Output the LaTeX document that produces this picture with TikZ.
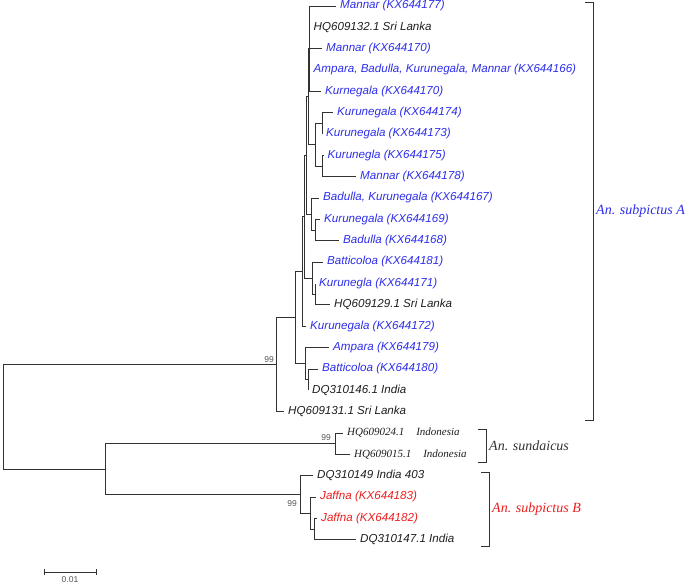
\documentclass[tikz,border=0pt]{standalone}
\usepackage{fontspec}
\setmainfont{Liberation Serif}
\setsansfont{Liberation Sans}
\definecolor{bluec}{RGB}{45,45,235}
\definecolor{redc}{RGB}{235,30,30}
\definecolor{txtc}{RGB}{30,30,30}
\definecolor{linec}{RGB}{50,50,50}
\definecolor{bootc}{RGB}{85,85,85}
\begin{document}
\begin{tikzpicture}[x=1pt,y=-1pt,
  br/.style={draw=linec,line width=0.9pt},
  lf/.style={anchor=west,inner xsep=4pt,inner ysep=0pt,text height=8pt,text depth=2.5pt,font=\sffamily\itshape\fontsize{11.6}{13}\selectfont,text=txtc},
  lfb/.style={lf,text=bluec},
  lfr/.style={lf,text=redc},
  lfi/.style={lf,font=\rmfamily\itshape\fontsize{11}{13}\selectfont},
  boot/.style={font=\sffamily\fontsize{8.5}{9}\selectfont,text=bootc,inner sep=0pt},
  sp/.style={font=\rmfamily\itshape\fontsize{14}{16}\selectfont,anchor=west,inner sep=0pt}]
\useasboundingbox (0,0) rectangle (685,584);

% internal nodes
\coordinate (root) at (3,416.8);
\coordinate (RA) at (276,364.6);
\coordinate (RL) at (105,469);
\coordinate (X) at (295,317.6);
\coordinate (Z) at (305,363.6);
\coordinate (W) at (308,379.6);
\coordinate (Y) at (302,271.5);
\coordinate (T) at (304,216.8);
\coordinate (BG) at (312,278.2);
\coordinate (BG2) at (315,294.2);
\coordinate (U) at (306,155.45);
\coordinate (V) at (311,214.2);
\coordinate (V2) at (315,230.2);
\coordinate (Q) at (308,96.7);
\coordinate (P1) at (309.5,48.7);
\coordinate (S1) at (315,144.75);
\coordinate (S1a) at (322,123.4);
\coordinate (S1b) at (322,166.1);
\coordinate (SU) at (335,443.7);
\coordinate (B) at (300,494.4);
\coordinate (B1) at (310,513.1);
\coordinate (B2) at (314,529.1);

% leaves
\node[lfb] (l1) at (336,6) {Mannar (KX644177)};
\node[lf]  (l2) at (309.5,27.35) {HQ609132.1 Sri Lanka};
\node[lfb] (l3) at (322,48.7) {Mannar (KX644170)};
\node[lfb] (l4) at (309.5,70.05) {Ampara, Badulla, Kurunegala, Mannar (KX644166)};
\node[lfb] (l5) at (321,91.4) {Kurnegala (KX644170)};
\node[lfb] (l6) at (333,112.75) {Kurunegala (KX644174)};
\node[lfb] (l7) at (322,134.1) {Kurunegala (KX644173)};
\node[lfb] (l8) at (323.5,155.45) {Kurunegla (KX644175)};
\node[lfb] (l9) at (356,176.8) {Mannar (KX644178)};
\node[lfb] (l10) at (319,198.15) {Badulla, Kurunegala (KX644167)};
\node[lfb] (l11) at (320,219.5) {Kurunegala (KX644169)};
\node[lfb] (l12) at (339,240.85) {Badulla (KX644168)};
\node[lfb] (l13) at (323,262.2) {Batticoloa (KX644181)};
\node[lfb] (l14) at (315,283.55) {Kurunegla (KX644171)};
\node[lf]  (l15) at (330,304.9) {HQ609129.1 Sri Lanka};
\node[lfb] (l16) at (306,326.25) {Kurunegala (KX644172)};
\node[lfb] (l17) at (329,347.6) {Ampara (KX644179)};
\node[lfb] (l18) at (318,368.95) {Batticoloa (KX644180)};
\node[lf]  (l19) at (308,390.3) {DQ310146.1 India};
\node[lf]  (l20) at (284,411.65) {HQ609131.1 Sri Lanka};
\node[lfi] (l21) at (343,433) {HQ609024.1\hspace{12pt}Indonesia};
\node[lfi] (l22) at (350,454.35) {HQ609015.1\hspace{12pt}Indonesia};
\node[lf]  (l23) at (313,475.7) {DQ310149 India 403};
\node[lfr] (l24) at (316,497.05) {Jaffna (KX644183)};
\node[lfr] (l25) at (317,518.4) {Jaffna (KX644182)};
\node[lf]  (l26) at (356,539.75) {DQ310147.1 India};

% branches
\draw[br] (root) |- (RA);
\draw[br] (root) |- (RL);
\draw[br] (RA) |- (X);
\draw[br] (RA) |- (l20.west);
\draw[br] (X) |- (Y);
\draw[br] (X) |- (Z);
\draw[br] (Z) |- (l17.west);
\draw[br] (Z) |- (W);
\draw[br] (W) |- (l18.west);
\draw[br] (W) |- (l19.west);
\draw[br] (Y) |- (T);
\draw[br] (Y) |- (l16.west);
\draw[br] (T) |- (U);
\draw[br] (T) |- (BG);
\draw[br] (BG) |- (l13.west);
\draw[br] (BG) |- (BG2);
\draw[br] (BG2) |- (l14.west);
\draw[br] (BG2) |- (l15.west);
\draw[br] (U) |- (Q);
\draw[br] (U) |- (V);
\draw[br] (V) |- (l10.west);
\draw[br] (V) |- (V2);
\draw[br] (V2) |- (l11.west);
\draw[br] (V2) |- (l12.west);
\draw[br] (Q) |- (P1);
\draw[br] (Q) |- (S1);
\foreach \k in {1,2,3,4,5} {\draw[br] (P1) |- (l\k.west);}
\draw[br] (S1) |- (S1a);
\draw[br] (S1) |- (S1b);
\draw[br] (S1a) |- (l6.west);
\draw[br] (S1a) |- (l7.west);
\draw[br] (S1b) |- (l8.west);
\draw[br] (S1b) |- (l9.west);
\draw[br] (RL) |- (SU);
\draw[br] (RL) |- (B);
\draw[br] (SU) |- (l21.west);
\draw[br] (SU) |- (l22.west);
\draw[br] (B) |- (l23.west);
\draw[br] (B) |- (B1);
\draw[br] (B1) |- (l24.west);
\draw[br] (B1) |- (B2);
\draw[br] (B2) |- (l25.west);
\draw[br] (B2) |- (l26.west);

% bootstrap values
\node[boot,anchor=south east] (b1) at (274,363) {99};
\node[boot,anchor=south east] (b2) at (331,441) {99};
\node[boot,anchor=north east] (b3) at (297,500) {99};

% species brackets
\coordinate (Aa) at (585,2); \coordinate (Ab) at (593,2);
\coordinate (Ac) at (593,420); \coordinate (Ad) at (585,420);
\draw[br] (Aa) -- (Ab) -- (Ac) -- (Ad);
\node[sp,text=bluec] (LA) at (596,211) {An. subpictus A};
\coordinate (Sa) at (478,429); \coordinate (Sb) at (486,429);
\coordinate (Sc) at (486,462); \coordinate (Sd) at (478,462);
\draw[br] (Sa) -- (Sb) -- (Sc) -- (Sd);
\node[sp,text=linec] (LS) at (489,446) {An. sundaicus};
\coordinate (Ba) at (481,472); \coordinate (Bb) at (489,472);
\coordinate (Bc) at (489,546); \coordinate (Bd) at (481,546);
\draw[br] (Ba) -- (Bb) -- (Bc) -- (Bd);
\node[sp,text=redc] (LB) at (492,509) {An. subpictus B};

% scale bar
\coordinate (s1) at (44,572); \coordinate (s2) at (96,572);
\draw[br] (s1) -- (s2);
\draw[br] ([yshift=-3pt]s1) -- ([yshift=3pt]s1);
\draw[br] ([yshift=-3pt]s2) -- ([yshift=3pt]s2);
\node[boot] (sl) at (70,580) {0.01};
\end{tikzpicture}
\end{document}
